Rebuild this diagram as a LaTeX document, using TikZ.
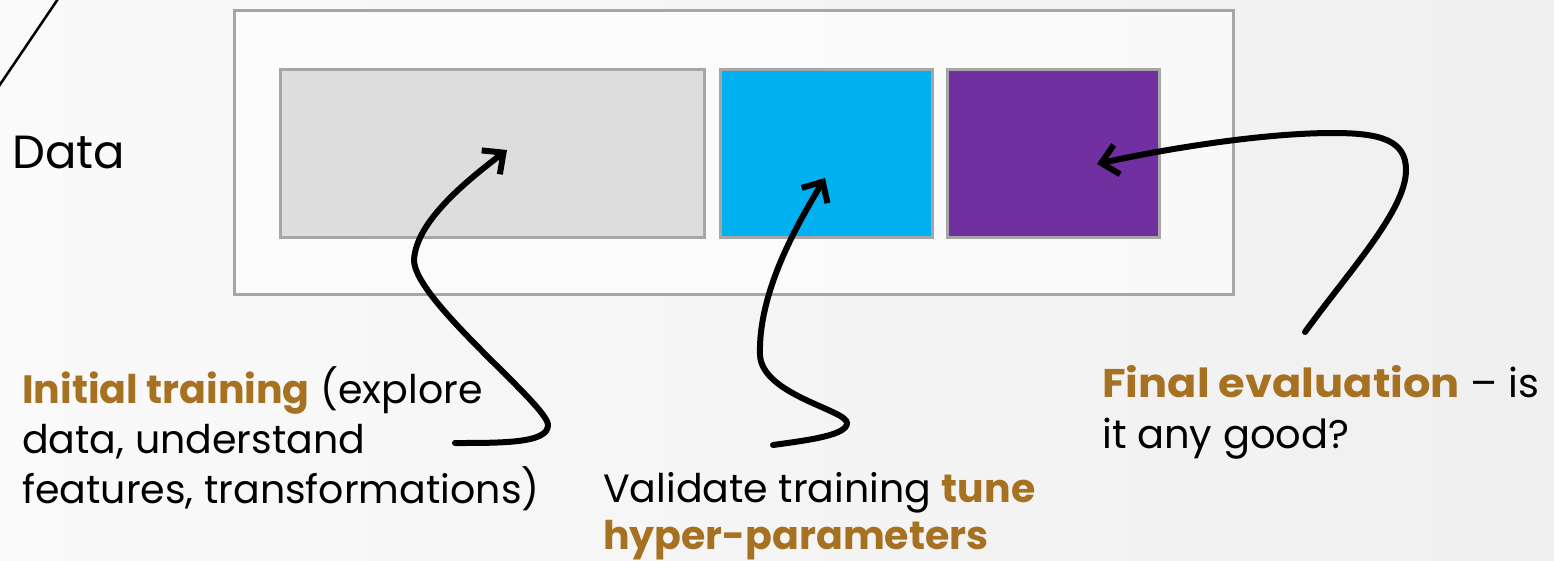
\documentclass[tikz,border=0pt]{standalone}
\usepackage{fontspec}
\setmainfont{Poppins}
\usetikzlibrary{arrows.meta}
\definecolor{frame}{RGB}{166,166,166}
\definecolor{trainc}{RGB}{221,221,221}
\definecolor{valc}{RGB}{0,176,240}
\definecolor{testc}{RGB}{112,48,160}
\definecolor{accent}{RGB}{166,113,32}
\tikzset{
  part/.style={draw=frame, line width=3pt, inner sep=0pt, anchor=north west},
  txt/.style={anchor=base west, inner sep=0pt, font=\fontsize{39.5}{50}\selectfont},
  pointer/.style={line width=6pt, line cap=round, line join=round, -{Straight Barb[length=16pt,width=30pt,line width=6pt]}}
}
\begin{document}
\begin{tikzpicture}[x=1pt,y=-1pt]
\shade[left color=white!98!black, right color=white!94!black] (0,0) rectangle (1554,560);
\useasboundingbox (0,0) rectangle (1554,560);
% corner line
\coordinate (c1) at (-3,89);
\coordinate (c2) at (60,-4);
\draw[line width=2.5pt] (c1) -- (c2);
% boxes
\node[part, fill=white, fill opacity=0.6, minimum width=999pt, minimum height=284pt] (outer) at (232.5,9) {};
\node[part, fill=trainc, minimum width=424pt, minimum height=168pt] (train) at (278.5,68) {};
\node[part, fill=valc, minimum width=212pt, minimum height=168pt] (val) at (719,68) {};
\node[part, fill=testc, minimum width=212pt, minimum height=168pt] (test) at (945.5,68) {};
% texts
\node[txt, font=\fontsize{46.5}{50}\selectfont] (data) at (12,168) {Data};
\node[txt] (i1) at (22,403) {\textbf{\color{accent}Initial training} (explore};
\node[txt] (i2) at (22,453) {data, understand};
\node[txt] (i3) at (22,503) {features, transformations)};
\node[txt] (v1) at (603,502) {Validate training \textbf{\color{accent}tune}};
\node[txt] (v2) at (603,549) {\textbf{\color{accent}hyper-parameters}};
\node[txt, font=\fontsize{40}{50}\selectfont] (f1) at (1102,397) {{\addfontfeature{FakeStretch=1.08}\textbf{\color{accent}Final evaluation}} -- is};
\node[txt, font=\fontsize{40}{50}\selectfont] (f2) at (1102,448) {it any good?};
% arrows
\coordinate (a1s) at (455,443);
\coordinate (a1e) at (507,150);
\draw[pointer] (a1s) .. controls (505,443) and (548,443) .. (548,425)
  .. controls (548,405) and (414,300) .. (414,260)
  .. controls (416,222) and (465,182) .. (a1e);
\coordinate (a2s) at (773,445);
\coordinate (a2e) at (825,178);
\draw[pointer] (a2s) .. controls (810,440) and (847,435) .. (847,423)
  .. controls (847,410) and (762,395) .. (760,355)
  .. controls (758,290) and (800,220) .. (a2e);
\coordinate (a3s) at (1305,332);
\coordinate (a3e) at (1097,164);
\draw[pointer] (a3s) .. controls (1350,270) and (1406,210) .. (1406,170)
  .. controls (1406,140) and (1380,133) .. (1333,133)
  .. controls (1260,133) and (1160,150) .. (a3e);
\end{tikzpicture}
\end{document}
